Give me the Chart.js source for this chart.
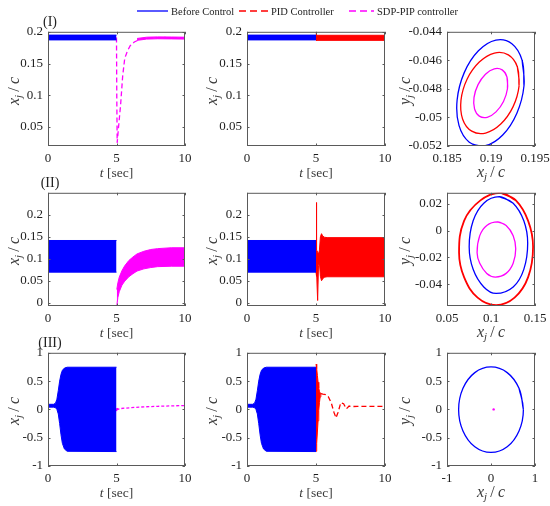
<!DOCTYPE html>
<html>
<head>
<meta charset="utf-8">
<script src="https://cdn.jsdelivr.net/npm/chart.js@4.4.1/dist/chart.umd.min.js"></script>
<style>
  html, body { margin:0; padding:0; background:#fff; }
  body { width:550px; height:506px; position:relative; overflow:hidden; font-family:"Liberation Serif", "DejaVu Serif", serif; }
  canvas { position:absolute; }
  .txt { position:absolute; white-space:nowrap; font-family:"Liberation Serif", serif; color:#3a3a3a; line-height:1; }
  .ttl { transform:translate(-50%,-50%); }
  .math { font-size:16px; }
  .tsec { font-size:13.5px; }
  .rot { transform:translate(-50%,-50%) rotate(-90deg); }
  .txt sub { font-size:68%; vertical-align:-0.25em; }
  .leg { position:absolute; top:5px; height:12px; font-size:10.5px; color:#222; display:flex; align-items:center; }
  .leg svg { margin-right:3px; }
  .rowlab { font-size:14px; color:#222; }
</style>
</head>
<body>
<script>
// ---------------- DATA ----------------
const legendLabels = ["Before Control", "PID Controller", "SDP-PIP controller"];
const rowLabels = ["(I)", "(II)", "(III)"];

const timeTicks = [0, 5, 10];
const r1YTicks = [0.05, 0.1, 0.15, 0.2];
const r2YTicks = [0, 0.05, 0.1, 0.15, 0.2];
const r3YTicks = [-1, -0.5, 0, 0.5, 1];
const p1XTicks = [0.185, 0.19, 0.195];
const p1YTicks = [-0.052, -0.05, -0.048, -0.046, -0.044];
const p2XTicks = [0.05, 0.1, 0.15];
const p2YTicks = [-0.04, -0.02, 0, 0.02];
const p3XTicks = [-1, 0, 1];
const p3YTicks = [-1, -0.5, 0, 0.5, 1];

// Row I : time responses
const tBefore = [0, 5];
const r1BlueHi = [0.1948, 0.1948];
const r1BlueLo = [0.1872, 0.1872];
const r1SdpT = [5.0, 5.02, 5.05, 5.15, 5.3, 5.45, 5.6, 5.8, 6.0, 6.3, 6.7, 7.2, 8.0, 8.5, 9.0, 9.5, 10];
const r1SdpV = [0.191, 0.1, 0.025, 0.05, 0.085, 0.13, 0.158, 0.17, 0.178, 0.184, 0.188, 0.19, 0.1905, 0.191, 0.19, 0.191, 0.19];
const r1SdpBandT = [6.5, 7.2, 8.0, 9.0, 10];
const r1SdpBandHi = [0.1895, 0.1915, 0.192, 0.1918, 0.1915];
const r1SdpBandLo = [0.1865, 0.1885, 0.189, 0.1888, 0.1885];
const r1PidT = [5.0, 5.02, 5.04];
const r1PidV = [0.187, 0.2, 0.19];
const r1PidBandT = [5.0, 10];
const r1PidBandHi = [0.1945, 0.1945];
const r1PidBandLo = [0.1865, 0.1865];

// Row I : phase portrait (closed orbits)
const p1BlueX = [0.19375, 0.19354, 0.19237, 0.19055, 0.18857, 0.18696, 0.18615, 0.18636, 0.18753, 0.18935, 0.19133, 0.19294];
const p1BlueY = [-0.04778, -0.046, -0.04483, -0.04458, -0.04533, -0.04686, -0.04878, -0.05056, -0.05173, -0.05198, -0.05123, -0.0497];
const p1RedX = [0.19319, 0.193, 0.19197, 0.19039, 0.18867, 0.18728, 0.18659, 0.18678, 0.18781, 0.18939, 0.19111, 0.1925];
const p1RedY = [-0.04779, -0.04646, -0.04562, -0.04549, -0.04612, -0.04732, -0.04879, -0.05012, -0.05096, -0.05109, -0.05046, -0.04926];
const p1MagX = [0.19187, 0.19182, 0.19127, 0.19037, 0.18937, 0.18853, 0.18807, 0.18813, 0.18867, 0.18957, 0.19057, 0.19142];
const p1MagY = [-0.04799, -0.04718, -0.04667, -0.04659, -0.04697, -0.0477, -0.04859, -0.0494, -0.04991, -0.04999, -0.04961, -0.04888];

// Row II : time responses
const r2BlueHi = [0.1415, 0.1415];
const r2BlueLo = [0.0695, 0.0695];
const r2SdpT = [5.02, 5.1, 5.2, 5.4, 5.6, 5.9, 6.2, 6.5, 7.0, 7.5, 8.0, 9.0, 10];
const r2SdpHi = [0.03, 0.045, 0.058, 0.073, 0.084, 0.096, 0.104, 0.111, 0.117, 0.121, 0.123, 0.125, 0.125];
const r2SdpLo = [-0.0075, 0.012, 0.025, 0.04, 0.049, 0.059, 0.066, 0.072, 0.077, 0.08, 0.082, 0.083, 0.083];
const r2PidT = [5.0, 5.02, 5.06, 5.12, 5.18, 5.25, 5.32, 5.4, 5.48, 5.6, 5.8, 10];
const r2PidHi = [0.14, 0.228, 0.12, 0.115, 0.11, 0.12, 0.15, 0.157, 0.152, 0.149, 0.148, 0.148];
const r2PidLo = [0.07, 0.06, 0.07, 0.005, 0.085, 0.09, 0.06, 0.05, 0.054, 0.058, 0.059, 0.059];

// Row II : phase portrait
const p2RedX = [0.111, 0.128, 0.1422, 0.1478, 0.1422, 0.1268, 0.1058, 0.0848, 0.0694, 0.0637, 0.0694, 0.088];
const p2RedY = [0.028, 0.0225, 0.0072, -0.012, -0.0346, -0.0498, -0.0553, -0.0498, -0.0346, -0.0165, 0.0072, 0.0224];
const p2BlueX = [0.1094, 0.1252, 0.1373, 0.1417, 0.1373, 0.1252, 0.1058, 0.0918, 0.0797, 0.0752, 0.0797, 0.0918];
const p2BlueY = [0.0251, 0.0203, 0.0072, -0.0095, -0.0288, -0.0419, -0.0467, -0.0419, -0.0288, -0.012, 0.0072, 0.0203];
const p2MagX = [0.1076, 0.1172, 0.1252, 0.1281, 0.1252, 0.1172, 0.105, 0.0952, 0.0872, 0.0842, 0.0872, 0.0952];
const p2MagY = [0.0064, 0.0038, -0.0038, -0.0136, -0.0243, -0.0318, -0.0345, -0.0318, -0.0243, -0.0165, -0.0038, 0.0038];

// Row III : time responses
const r3BlueT = [0, 0.4, 0.55, 0.65, 0.75, 0.85, 0.95, 1.05, 1.2, 1.4, 5.0];
const r3BlueHi = [0.09, 0.09, 0.11, 0.18, 0.33, 0.5, 0.62, 0.69, 0.73, 0.745, 0.745];
const r3BlueLo = [0.04, 0.04, 0.03, 0.0, -0.08, -0.25, -0.45, -0.6, -0.7, -0.74, -0.745];
const r3SdpT = [5.0, 5.04, 5.1, 5.3, 6, 7, 8, 9, 10];
const r3SdpV = [-0.03, 0.04, 0.0, 0.015, 0.03, 0.045, 0.055, 0.062, 0.068];
const r3PidBandT = [5.0, 5.05, 5.1, 5.15, 5.2, 5.25, 5.3, 5.35];
const r3PidBandHi = [0.8, 0.72, 0.6, 0.48, 0.38, 0.32, 0.29, 0.28];
const r3PidBandLo = [-0.74, -0.6, -0.4, -0.2, -0.02, 0.12, 0.22, 0.27];
const r3PidT = [5.35, 5.5, 5.7, 5.9, 6.1, 6.3, 6.45, 6.6, 6.8, 7.0, 7.2, 7.4, 7.6, 8, 9, 10];
const r3PidV = [0.28, 0.27, 0.26, 0.22, 0.12, -0.05, -0.15, -0.05, 0.12, 0.1, 0.01, 0.06, 0.05, 0.055, 0.055, 0.055];

// Row III : phase portrait
const p3BlueX = [0.736, 0.637, 0.368, 0.0, -0.368, -0.637, -0.736, -0.637, -0.368, 0.0, 0.368, 0.637];
const p3BlueY = [-0.005, 0.372, 0.65, 0.75, 0.65, 0.372, -0.005, -0.38, -0.66, -0.76, -0.66, -0.38];
const p3DotX = [0.06];
const p3DotY = [0.0];

// ---------------- HELPERS ----------------
const BLUE = '#0000ff', RED = '#ff0000', MAG = '#ff00ff';
const DASH = [5, 3];

function xy(xs, ys) { return xs.map((x, i) => ({ x: x, y: ys[i] })); }
function band(t, hi, lo, color) {
  return [
    { data: xy(t, hi), borderColor: color, backgroundColor: color, borderWidth: 1, fill: '+1', tension: 0 },
    { data: xy(t, lo), borderColor: color, backgroundColor: color, borderWidth: 1, fill: false, tension: 0 }
  ];
}
function line(t, v, color, dash, width) {
  return { data: xy(t, v), borderColor: color, borderWidth: width || 1.3, borderDash: dash || [], fill: false, tension: 0 };
}
function loop(xs, ys, color, width) {
  const X = xs.concat(xs.slice(0, 2)), Y = ys.concat(ys.slice(0, 2));
  return { data: xy(X, Y), borderColor: color, borderWidth: width || 1.3, fill: false, tension: 0.4 };
}
function dot(xs, ys, color) {
  return { data: xy(xs, ys), showLine: false, pointRadius: 1.2, pointBackgroundColor: color, pointBorderWidth: 0 };
}

const boxPlugin = {
  id: 'boxTicks',
  afterDatasetsDraw(chart) {
    const { ctx, chartArea: a, scales } = chart;
    const x = scales.x, y = scales.y, L = 2.5;
    ctx.save();
    ctx.strokeStyle = '#5a5a5a';
    ctx.lineWidth = 1;
    ctx.strokeRect(a.left + 0.5, a.top + 0.5, a.right - a.left - 1, a.bottom - a.top - 1);
    ctx.beginPath();
    x.ticks.forEach(t => {
      const p = Math.round(x.getPixelForValue(t.value)) + 0.5;
      ctx.moveTo(p, a.bottom); ctx.lineTo(p, a.bottom - L);
      ctx.moveTo(p, a.top); ctx.lineTo(p, a.top + L);
    });
    y.ticks.forEach(t => {
      const p = Math.round(y.getPixelForValue(t.value)) + 0.5;
      ctx.moveTo(a.left, p); ctx.lineTo(a.left + L, p);
      ctx.moveTo(a.right, p); ctx.lineTo(a.right - L, p);
    });
    ctx.stroke();
    ctx.restore();
  }
};

const PADL = 64, PADT = 12, PADR = 24, PADB = 34;
const tickFont = { family: '"Liberation Serif", serif', size: 13 };

function axis(min, max, ticks, isX) {
  return {
    type: 'linear', min: min, max: max,
    grid: { display: false, drawTicks: false },
    border: { display: false },
    afterBuildTicks: s => { s.ticks = ticks.map(v => ({ value: v })); },
    afterFit: s => { if (isX) s.height = PADB; else s.width = PADL; },
    ticks: { padding: 5, font: tickFont, color: '#1e1e1e', autoSkip: false, maxRotation: 0, callback: v => String(v) }
  };
}

function makeChart(p) {
  const [L, T, W, H] = p.box;
  const cv = document.createElement('canvas');
  const w = W + PADL + PADR, h = H + PADT + PADB;
  cv.width = w; cv.height = h;
  cv.style.left = (L - PADL) + 'px'; cv.style.top = (T - PADT) + 'px';
  cv.style.width = w + 'px'; cv.style.height = h + 'px';
  document.body.appendChild(cv);
  new Chart(cv, {
    type: 'line',
    data: { datasets: p.ds },
    options: {
      responsive: false, animation: false,
      layout: { padding: { left: 0, top: PADT, right: PADR, bottom: 0 } },
      plugins: { legend: { display: false }, tooltip: { enabled: false } },
      elements: { point: { radius: 0 } },
      scales: { x: axis(p.x[0], p.x[1], p.xt, true), y: axis(p.y[0], p.y[1], p.yt, false) }
    },
    plugins: [boxPlugin]
  });
}

// ---------------- LAYOUT ----------------
const colL = [48, 247, 447], colW = [137, 138, 88];
const rowT = [31, 192, 352], rowH = [115, 114, 114];
function B(r, c) { return [colL[c], rowT[r], colW[c], rowH[r]]; }

const plots = [
  { box: B(0,0), x: [0,10], xt: timeTicks, y: [0.02,0.2], yt: r1YTicks,
    ds: [...band(tBefore, r1BlueHi, r1BlueLo, BLUE), ...band(r1SdpBandT, r1SdpBandHi, r1SdpBandLo, MAG), line(r1SdpT, r1SdpV, MAG, DASH, 1.3)] },
  { box: B(0,1), x: [0,10], xt: timeTicks, y: [0.02,0.2], yt: r1YTicks,
    ds: [...band(tBefore, r1BlueHi, r1BlueLo, BLUE), ...band(r1PidBandT, r1PidBandHi, r1PidBandLo, RED), line(r1PidT, r1PidV, RED, [], 1.2)] },
  { box: B(0,2), x: [0.185,0.195], xt: p1XTicks, y: [-0.052,-0.044], yt: p1YTicks,
    ds: [loop(p1BlueX, p1BlueY, BLUE), loop(p1RedX, p1RedY, RED), loop(p1MagX, p1MagY, MAG)] },

  { box: B(1,0), x: [0,10], xt: timeTicks, y: [-0.0075,0.25], yt: r2YTicks,
    ds: [...band(tBefore, r2BlueHi, r2BlueLo, BLUE), ...band(r2SdpT, r2SdpHi, r2SdpLo, MAG)] },
  { box: B(1,1), x: [0,10], xt: timeTicks, y: [-0.0075,0.25], yt: r2YTicks,
    ds: [...band(tBefore, r2BlueHi, r2BlueLo, BLUE), ...band(r2PidT, r2PidHi, r2PidLo, RED)] },
  { box: B(1,2), x: [0.05,0.15], xt: p2XTicks, y: [-0.056,0.028], yt: p2YTicks,
    ds: [loop(p2RedX, p2RedY, RED, 1.8), loop(p2BlueX, p2BlueY, BLUE), loop(p2MagX, p2MagY, MAG)] },

  { box: B(2,0), x: [0,10], xt: timeTicks, y: [-1,1], yt: r3YTicks,
    ds: [...band(r3BlueT, r3BlueHi, r3BlueLo, BLUE), line(r3SdpT, r3SdpV, MAG, [3,2], 1.3)] },
  { box: B(2,1), x: [0,10], xt: timeTicks, y: [-1,1], yt: r3YTicks,
    ds: [...band(r3BlueT, r3BlueHi, r3BlueLo, BLUE), ...band(r3PidBandT, r3PidBandHi, r3PidBandLo, RED), line(r3PidT, r3PidV, RED, DASH, 1.3)] },
  { box: B(2,2), x: [-1,1], xt: p3XTicks, y: [-1,1], yt: p3YTicks,
    ds: [loop(p3BlueX, p3BlueY, BLUE), dot(p3DotX, p3DotY, MAG)] }
];
plots.forEach(makeChart);

// ---------------- TEXT OVERLAYS ----------------
function addText(html, cls, x, y) {
  const d = document.createElement('div');
  d.className = 'txt ' + cls;
  d.style.left = x + 'px'; d.style.top = y + 'px';
  d.innerHTML = html;
  document.body.appendChild(d);
}
const XJC = '<i>x</i><sub><i>j</i></sub>&thinsp;/&thinsp;<i>c</i>';
const YJC = '<i>y</i><sub><i>j</i></sub>&thinsp;/&thinsp;<i>c</i>';
const TSEC = '<i>t</i>&nbsp;[sec]';
const yTitleX = [15, 213, 406];
for (let r = 0; r < 3; r++) {
  for (let c = 0; c < 3; c++) {
    const [L, T, W, H] = B(r, c);
    addText(c < 2 ? XJC : YJC, 'math rot', yTitleX[c], T + H / 2 + 2);
    addText(c < 2 ? TSEC : XJC, (c < 2 ? 'tsec' : 'math') + ' ttl', L + W / 2, T + H + 27);
  }
  addText(rowLabels[r], 'ttl rowlab', 50, rowT[r] - 9);
}

// Legend
const legItems = [
  { x: 137, color: BLUE, dash: '' },
  { x: 239, color: RED, dash: '7,4' },
  { x: 349, color: MAG, dash: '7,4' }
];
legItems.forEach((it, i) => {
  const d = document.createElement('div');
  d.className = 'leg';
  d.style.left = it.x + 'px';
  const len = i === 0 ? 31 : (i === 1 ? 29 : 25);
  d.innerHTML = '<svg width="' + len + '" height="4"><line x1="0" y1="2" x2="' + len + '" y2="2" stroke="' + it.color +
    '" stroke-width="1.3"' + (it.dash ? ' stroke-dasharray="' + it.dash + '"' : '') + '/></svg><span>' + legendLabels[i] + '</span>';
  document.body.appendChild(d);
});
</script>
</body>
</html>
